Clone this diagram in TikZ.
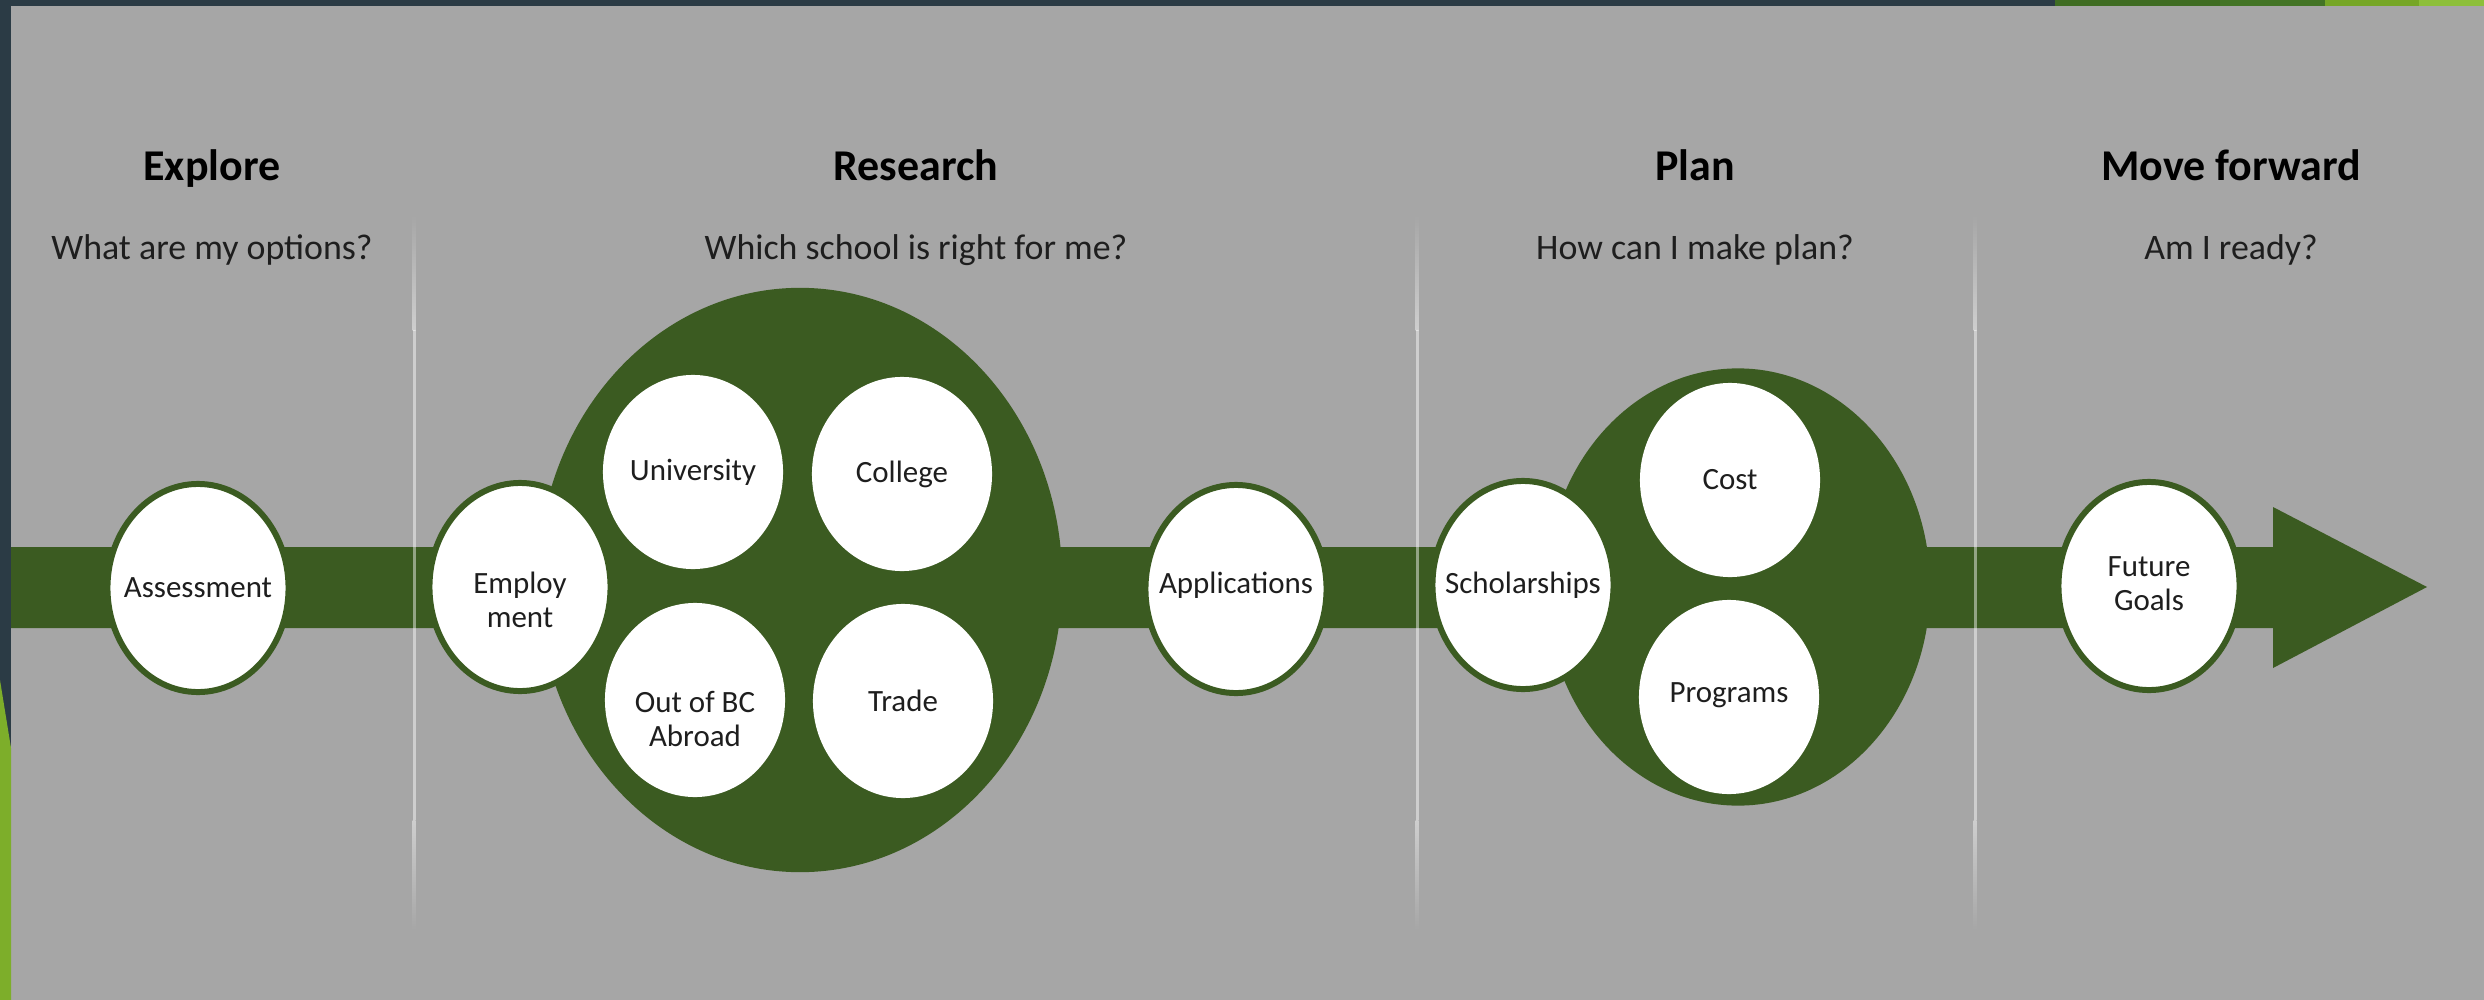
\documentclass[tikz,border=0pt]{standalone}
\usepackage{fontspec}
\setmainfont{Carlito}
\usetikzlibrary{shapes.geometric}
\definecolor{bg}{HTML}{A6A6A6}
\definecolor{slate}{HTML}{2B3B45}
\definecolor{dgreen}{HTML}{3B5B21}
\definecolor{ga}{HTML}{3F6C22}
\definecolor{gb}{HTML}{437425}
\definecolor{gc}{HTML}{76A626}
\definecolor{gd}{HTML}{8DBF3A}
\definecolor{lgreen}{HTML}{7DAE2A}
\definecolor{txt}{HTML}{1E1E1E}
\colorlet{lineg}{white!45!bg}
\tikzset{
  title/.style={font=\fontsize{12.5}{15}\selectfont\bfseries, text=black, anchor=base, inner sep=0pt},
  sub/.style={font=\fontsize{10.2}{12}\selectfont, text=txt, anchor=base, inner sep=0pt},
  lbl/.style={font=\fontsize{8.8}{9.7}\selectfont, text=txt, align=center, inner sep=0pt},
  ring/.style={ellipse, draw=dgreen, line width=1.7pt, fill=white, minimum width=1.81cm, minimum height=2.08cm, inner sep=0pt},
  innerc/.style={ellipse, fill=white, minimum width=1.8cm, minimum height=1.94cm, inner sep=0pt},
  bigc/.style={ellipse, fill=dgreen, inner sep=0pt},
  divline/.style={white, opacity=0.45},
}
\begin{document}
\begin{tikzpicture}[x=0.01cm, y=-0.01cm]
\useasboundingbox (0,0) rectangle (2484,1000);
% background
\fill[bg] (0,0) rectangle (2484,1000);
% top strip
\fill[slate] (0,0) rectangle (2055,6);
\fill[ga] (2055,0) rectangle (2220,6);
\fill[gb] (2220,0) rectangle (2325,6);
\fill[gc] (2325,0) rectangle (2419,6);
\fill[gd] (2419,0) rectangle (2484,6);
% left strip
\fill[slate] (0,0) rectangle (11,1000);
\fill[lgreen] (0,680) -- (11,748) -- (11,1000) -- (0,1000) -- cycle;
% main bar with arrowhead
\fill[dgreen] (11,547) -- (2273,547) -- (2273,507) -- (2427,587) -- (2273,668) -- (2273,628) -- (11,628) -- cycle;
% divider lines
\foreach \xx in {414,1417,1975}{
  \shade[top color=bg, bottom color=lineg] (\xx-1.5,215) rectangle (\xx+1.5,330);
  \fill[divline] (\xx-1.5,330) rectangle (\xx+1.5,820);
  \shade[top color=lineg, bottom color=bg] (\xx-1.5,820) rectangle (\xx+1.5,930);
}
% titles
\node[title] (tExplore) at (212,180) {Explore};
\node[title] (tResearch) at (916,180) {Research};
\node[title] (tPlan) at (1695,180) {Plan};
\node[title] (tMove) at (2231,180) {Move forward};
\node[sub] (sExplore) at (212,259) {What are my options?};
\node[sub] (sResearch) at (916,259) {Which school is right for me?};
\node[sub] (sPlan) at (1695,259) {How can I make plan?};
\node[sub] (sMove) at (2231,259) {Am I ready?};
% big circles
\node[bigc, minimum width=5.24cm, minimum height=5.84cm] (research) at (800,580) {};
\node[bigc, minimum width=3.84cm, minimum height=4.37cm] (plan) at (1738,587) {};
% inner circles
\node[innerc] (univ) at (693,472) {};
\node[lbl] (univT) at (univ) {University};
\node[innerc] (college) at (902,474) {};
\node[lbl] (collegeT) at (college) {College};
\node[innerc] (outbc) at (695,700) {};
\node[lbl] (outbcT) at (695,719) {Out of BC\\Abroad};
\node[innerc] (trade) at (903,701) {};
\node[lbl] (tradeT) at (trade) {Trade};
\node[innerc] (cost) at (1730,480) {};
\node[lbl] (costT) at (cost) {Cost};
\node[innerc] (programs) at (1729,697) {};
\node[lbl] (programsT) at (1729,695) {Programs};
% ringed circles
\node[ring] (assess) at (198,588) {};
\node[lbl] (assessT) at (assess) {Assessment};
\node[ring] (employ) at (520,587) {};
\node[lbl] (employT) at (520,600) {Employ\\ment};
\node[ring] (apps) at (1236,589) {};
\node[lbl] (appsT) at (1236,585) {Applications};
\node[ring] (schol) at (1523,585) {};
\node[lbl] (scholT) at (schol) {Scholarships};
\node[ring] (future) at (2149,586) {};
\node[lbl] (futureT) at (2149,584) {Future\\Goals};
\end{tikzpicture}
\end{document}
